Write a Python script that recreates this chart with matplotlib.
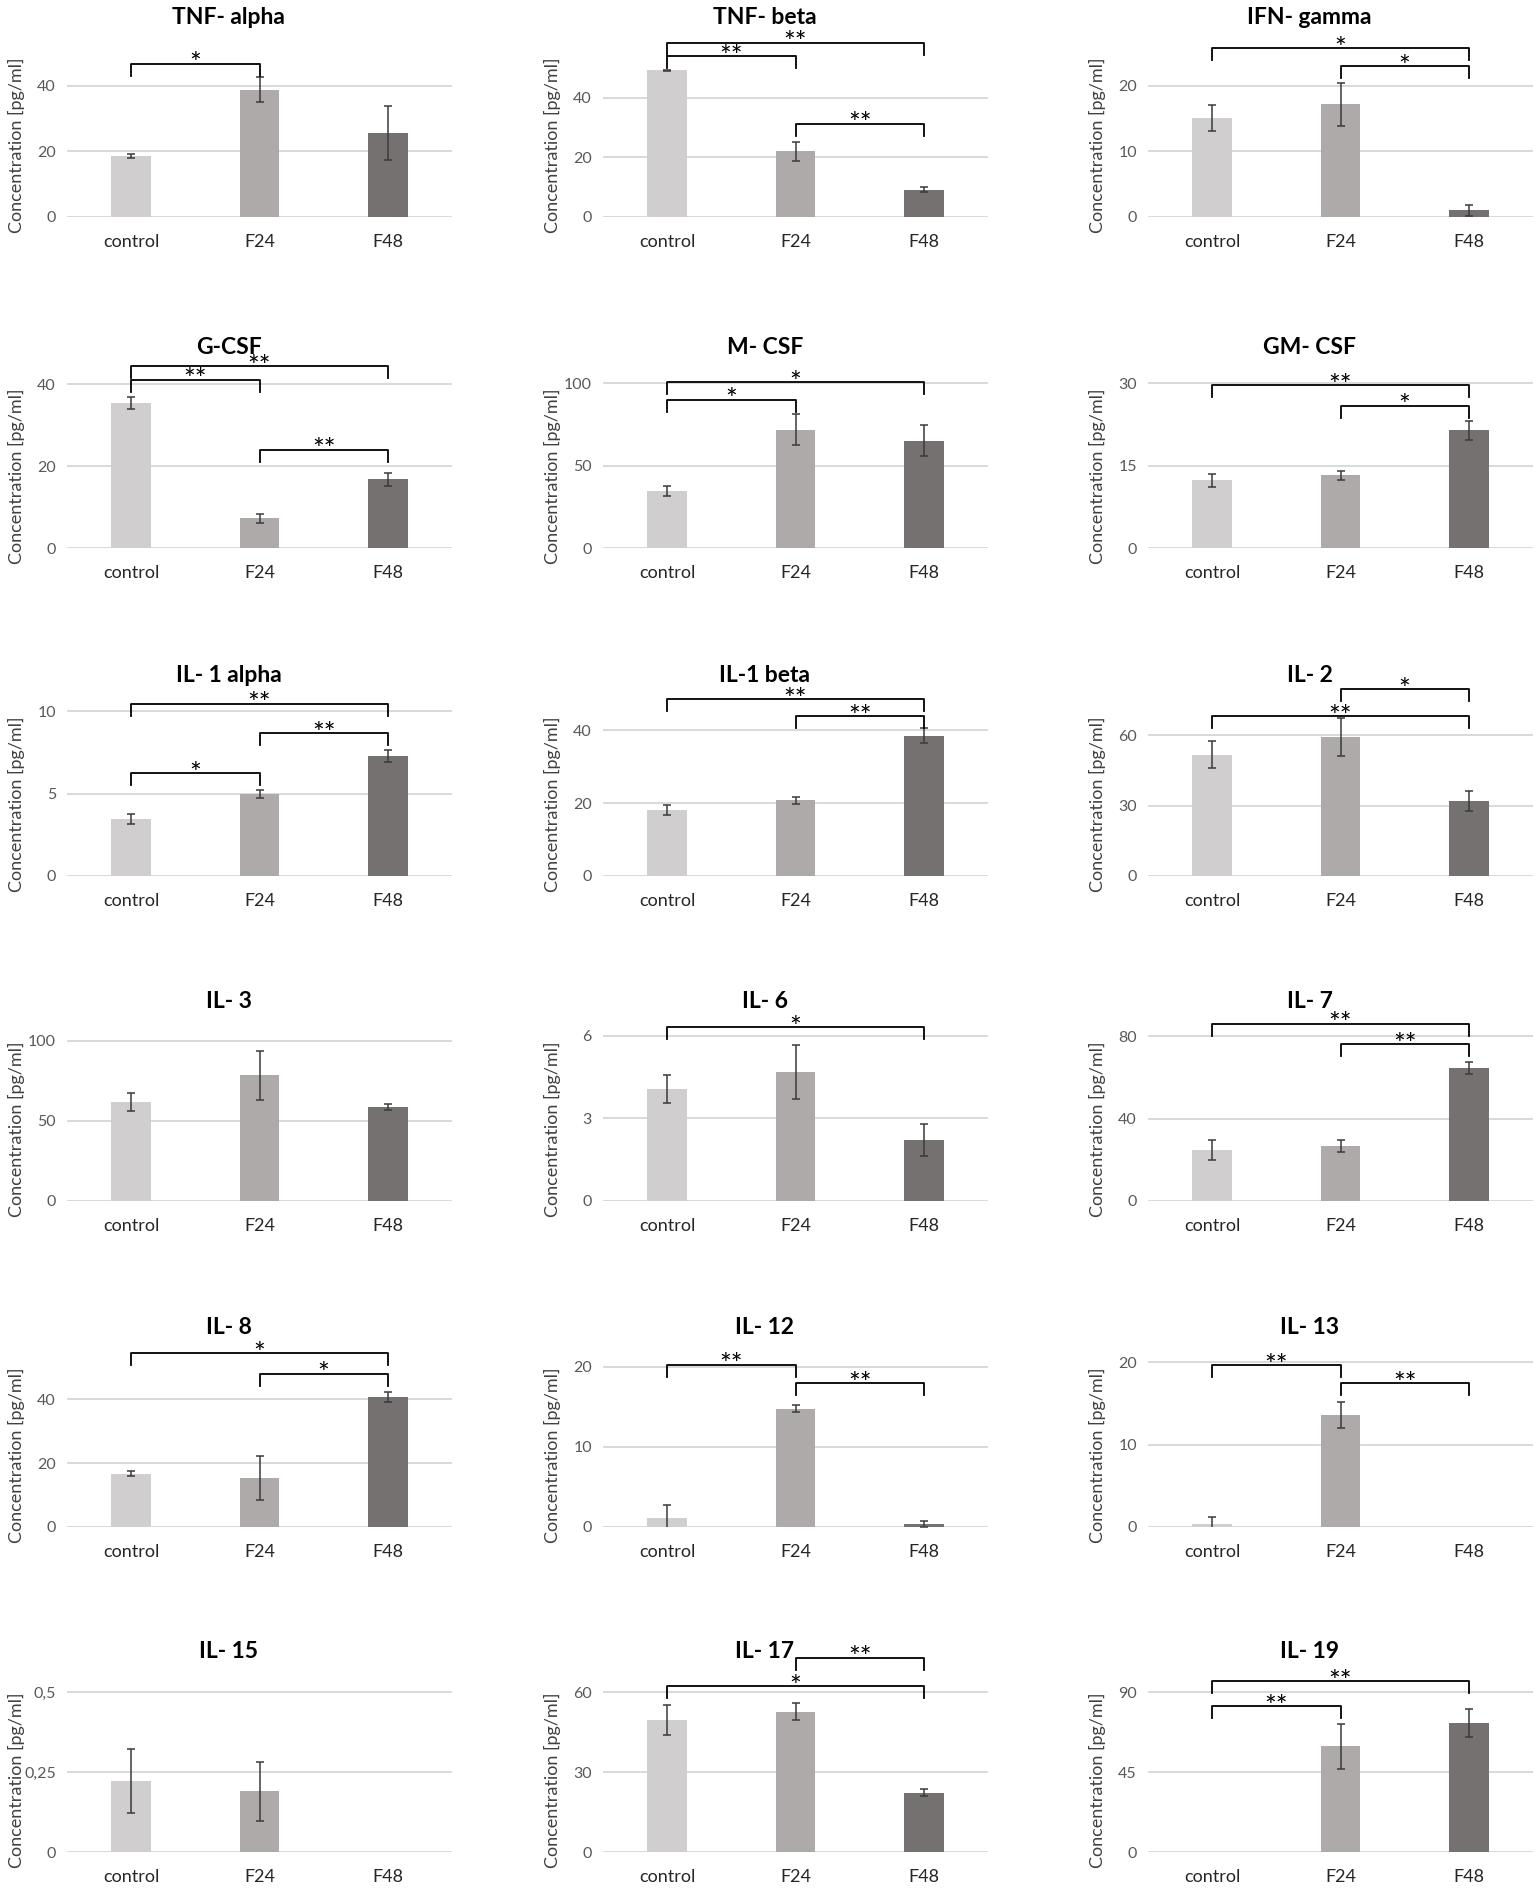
import matplotlib
matplotlib.use("Agg")
import matplotlib.pyplot as plt

plt.rcParams["font.family"] = ["Lato", "DejaVu Sans"]

# cytokine panels, row by row (3 per row)
titles = ["TNF- alpha", "TNF- beta", "IFN- gamma",
          "G-CSF", "M- CSF", "GM- CSF",
          "IL- 1 alpha", "IL-1 beta", "IL- 2",
          "IL- 3", "IL- 6", "IL- 7",
          "IL- 8", "IL- 12", "IL- 13",
          "IL- 15", "IL- 17", "IL- 19"]
groups = ["control", "F24", "F48"]

ctrl = [18.6, 49.1, 15.1, 35.4, 34.4, 12.3, 3.48, 18.2, 51.8,
        61.9, 4.08, 24.8, 16.7, 1.09, 0.33, 0.222, 49.5, 0.0]
f24 = [38.8, 22.0, 17.2, 7.2, 71.9, 13.2, 4.96, 20.8, 59.3,
       78.5, 4.70, 26.6, 15.2, 14.8, 13.6, 0.19, 52.6, 59.4]
f48 = [25.6, 9.2, 1.0, 16.75, 65.2, 21.4, 7.27, 38.5, 32.0,
       58.75, 2.22, 64.7, 40.7, 0.38, 0.0, 0.0, 22.2, 72.6]
ctrl_err = [0.6, 0.3, 2.0, 1.4, 3.0, 1.2, 0.3, 1.4, 5.8,
            5.8, 0.5, 4.7, 0.8, 1.67, 0.9, 0.1, 5.8, 0.0]
f24_err = [3.8, 3.1, 3.3, 1.2, 9.5, 0.9, 0.25, 1.0, 8.3,
           15.2, 0.98, 2.9, 6.9, 0.4, 1.6, 0.092, 3.1, 12.8]
f48_err = [8.1, 0.8, 0.8, 1.5, 9.3, 1.7, 0.36, 2.0, 4.1,
           2.0, 0.57, 2.9, 1.7, 0.37, 0.0, 0.0, 1.3, 8.0]

yticks = [[0, 20, 40], [0, 20, 40], [0, 10, 20],
          [0, 20, 40], [0, 50, 100], [0, 15, 30],
          [0, 5, 10], [0, 20, 40], [0, 30, 60],
          [0, 50, 100], [0, 3, 6], [0, 40, 80],
          [0, 20, 40], [0, 10, 20], [0, 10, 20],
          [0, 0.25, 0.5], [0, 30, 60], [0, 45, 90]]
ytop = [60.9, 67.0, 30.5, 48.8, 121.4, 36.4, 12.14, 54.9, 85.3,
        125.0, 7.27, 97.1, 62.6, 25.0, 24.3, 0.625, 75.0, 112.5]

# significance brackets: (from group, to group, height, label)
brackets = [
    [(0, 1, 46.7, "*")],
    [(0, 2, 58.4, "**"), (0, 1, 53.8, "**"), (1, 2, 31.3, "**")],
    [(0, 2, 25.7, "*"), (1, 2, 23.0, "*")],
    [(0, 2, 44.3, "**"), (0, 1, 41.1, "**"), (1, 2, 24.0, "**")],
    [(0, 2, 100.6, "*"), (0, 1, 90.1, "*")],
    [(0, 2, 29.6, "**"), (1, 2, 25.9, "*")],
    [(0, 2, 10.47, "**"), (1, 2, 8.65, "**"), (0, 1, 6.25, "*")],
    [(0, 2, 48.5, "**"), (1, 2, 43.9, "**")],
    [(1, 2, 79.6, "*"), (0, 2, 68.1, "**")],
    [],
    [(0, 2, 6.33, "*")],
    [(0, 2, 86.1, "**"), (1, 2, 76.1, "**")],
    [(0, 2, 54.4, "*"), (1, 2, 48.0, "*")],
    [(0, 1, 20.3, "**"), (1, 2, 18.0, "**")],
    [(0, 1, 19.7, "**"), (1, 2, 17.45, "**")],
    [],
    [(1, 2, 72.9, "**"), (0, 2, 62.2, "*")],
    [(0, 2, 96.0, "**"), (0, 1, 81.9, "**")],
]

colors = ["#D0CECE", "#AEAAAA", "#767171"]

W, H = 1535, 1893
fig = plt.figure(figsize=(W / 100, H / 100), dpi=100)

col_left = [67, 603, 1148]
row_zero = [217, 548, 876, 1201, 1527, 1852]
ax_w, ax_h = 385, 200


def fmt(v):
    if float(v).is_integer():
        return str(int(v))
    return f"{v:g}".replace(".", ",")


for k, title in enumerate(titles):
    r, c = divmod(k, 3)
    ax = fig.add_axes([col_left[c] / W, (H - row_zero[r]) / H,
                       ax_w / W, ax_h / H])
    vals = [ctrl[k], f24[k], f48[k]]
    errs = [ctrl_err[k], f24_err[k], f48_err[k]]
    x = range(3)
    ax.bar(x, vals, width=0.31, color=colors, zorder=2, clip_on=False)
    for xi, v, e in zip(x, vals, errs):
        if v == 0 and e == 0:
            continue
        ax.errorbar(xi, v, yerr=e, fmt="none", ecolor="#3a3a3a",
                    elinewidth=1.1, capsize=3, capthick=1.1, zorder=3)

    ax.set_xlim(-0.5, 2.5)
    ax.set_ylim(0, ytop[k])
    ax.set_yticks(yticks[k])
    ax.set_yticklabels([fmt(t) for t in yticks[k]])
    ax.set_xticks(list(x))
    ax.set_xticklabels(groups)
    ax.yaxis.grid(True, color="#D9D9D9", lw=1.4, zorder=0)
    ax.set_axisbelow(True)
    for s in ax.spines.values():
        s.set_visible(False)
    ax.tick_params(axis="both", length=0)
    ax.tick_params(axis="y", labelsize=11.5, labelcolor="#595959", pad=8)
    ax.tick_params(axis="x", labelsize=13, labelcolor="#262626", pad=12)

    ax.set_ylabel("Concentration [pg/ml]", fontsize=13, color="#404040")
    ax.yaxis.set_label_coords(-0.11, 0.36)
    # chart title is centred on the whole chart area (incl. y label)
    ax.text(0.42, 1.0, title, transform=ax.transAxes, ha="center",
            va="center", fontsize=16.5, fontweight="bold", color="black")

    leg = 12 / ax_h * ytop[k]
    for i, j, y, lab in brackets[k]:
        ax.plot([i, i, j, j], [y - leg, y, y, y - leg], color="black",
                lw=1.3, clip_on=False, zorder=4)
        ax.annotate(lab, ((i + j) / 2, y), xytext=(0, -7),
                    textcoords="offset points", ha="center", va="baseline",
                    fontsize=20, color="black", annotation_clip=False)

fig.savefig("out.png", dpi=100)
